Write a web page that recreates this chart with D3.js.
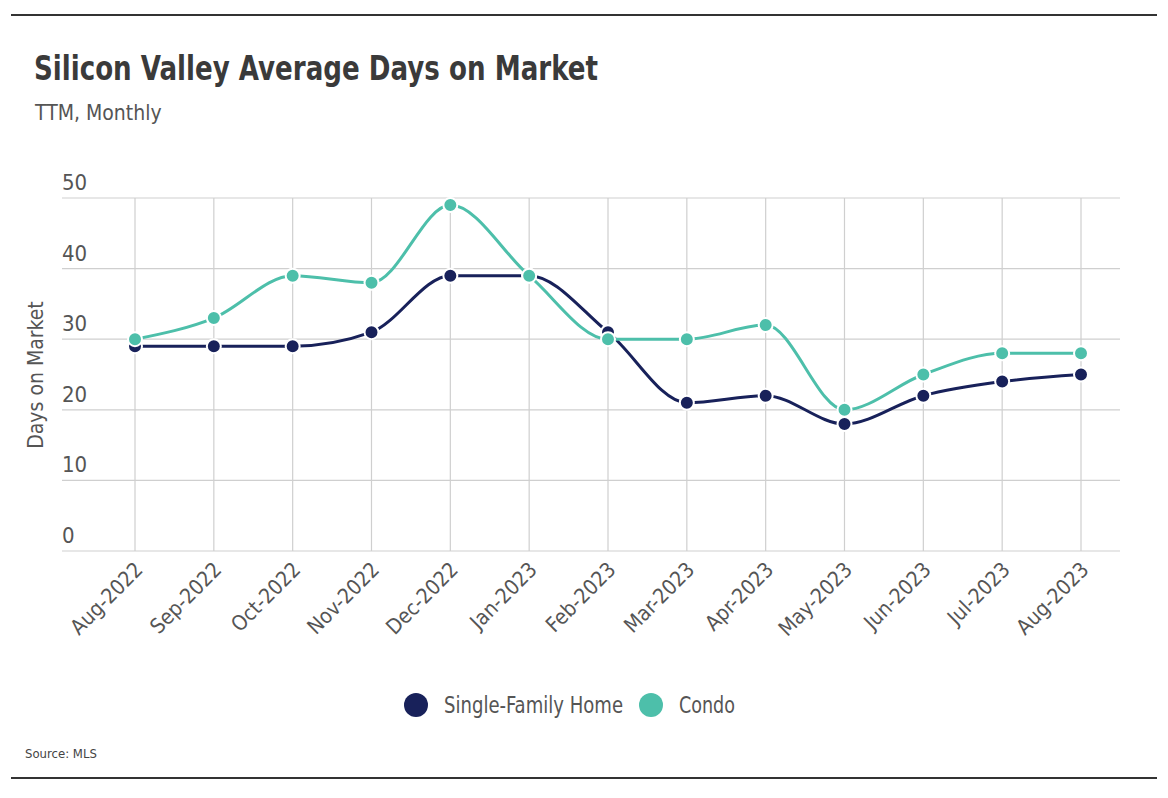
<!DOCTYPE html>
<html>
<head>
<meta charset="utf-8">
<script src="https://d3js.org/d3.v7.min.js"></script>
<style>
  body { margin:0; background:#fff; }
  svg { display:block; font-family:"Liberation Sans Narrow","DejaVu Sans Condensed",sans-serif; }
  .grid line { stroke:#cfcfcf; stroke-width:1.2px; }
  .tick-y { font-size:22px; fill:#555; }
  .tick-x { font-size:21px; fill:#555; }
</style>
</head>
<body>
<div id="chart"></div>
<script>
const months = ["Aug-2022","Sep-2022","Oct-2022","Nov-2022","Dec-2022","Jan-2023","Feb-2023",
  "Mar-2023","Apr-2023","May-2023","Jun-2023","Jul-2023","Aug-2023"];
const singleFamily = [29, 29, 29, 31, 39, 39, 31, 21, 22, 18, 22, 24, 25];
const condo = [30, 33, 39, 38, 49, 39, 30, 30, 32, 20, 25, 28, 28];
const yTicks = [0, 10, 20, 30, 40, 50];
const seriesNames = ["Single-Family Home", "Condo"];
const seriesColors = ["#18215a", "#4dbfaa"];

const width = 1168, height = 798;
const svg = d3.select("#chart").append("svg").attr("width", width).attr("height", height);

// frame rules
svg.append("line").attr("x1", 11).attr("x2", 1157).attr("y1", 15).attr("y2", 15)
  .attr("stroke", "#333").attr("stroke-width", 2);
svg.append("line").attr("x1", 11).attr("x2", 1157).attr("y1", 778).attr("y2", 778)
  .attr("stroke", "#333").attr("stroke-width", 2);

// titles (condensed face isn't installed, so squeeze to the reference width)
svg.append("text").attr("x", 34).attr("y", 80)
  .attr("textLength", 564).attr("lengthAdjust", "spacingAndGlyphs")
  .style("font-size", "33px").style("font-weight", "bold").attr("fill", "#3a3a3a")
  .text("Silicon Valley Average Days on Market");
svg.append("text").attr("x", 35).attr("y", 120)
  .style("font-size", "21px").attr("fill", "#555").text("TTM, Monthly");

const plotLeft = 62, plotRight = 1120, plotTop = 198, plotBottom = 551;

const x = d3.scalePoint().domain(months).range([135, 1081]);
const y = d3.scaleLinear().domain([0, 50]).range([plotBottom, plotTop]);

// grid
const grid = svg.append("g").attr("class", "grid");
grid.selectAll("line.h").data(yTicks).enter().append("line").attr("class", "h")
  .attr("x1", plotLeft).attr("x2", plotRight)
  .attr("y1", d => y(d)).attr("y2", d => y(d));
grid.selectAll("line.v").data(months).enter().append("line").attr("class", "v")
  .attr("x1", d => x(d)).attr("x2", d => x(d))
  .attr("y1", plotTop).attr("y2", plotBottom);

// y tick labels sit above their gridline
svg.selectAll("text.tick-y").data(yTicks).enter().append("text").attr("class", "tick-y")
  .attr("x", plotLeft).attr("y", d => y(d) - 8).text(d => d);

// y axis title
svg.append("text").attr("transform", "translate(43,375) rotate(-90)")
  .attr("text-anchor", "middle").style("font-size", "21px").attr("fill", "#555")
  .text("Days on Market");

// x tick labels
svg.selectAll("text.tick-x").data(months).enter().append("text").attr("class", "tick-x")
  .attr("text-anchor", "end")
  .attr("transform", d => `translate(${x(d) + 9},${plotBottom + 20}) rotate(-45)`)
  .text(d => d);

// lines and points
const line = d3.line().x((d, i) => x(months[i])).y(d => y(d)).curve(d3.curveMonotoneX);
[singleFamily, condo].forEach((vals, s) => {
  const g = svg.append("g");
  g.append("path").datum(vals).attr("d", line)
    .attr("fill", "none").attr("stroke", seriesColors[s]).attr("stroke-width", 3);
  g.selectAll("circle").data(vals).enter().append("circle")
    .attr("cx", (d, i) => x(months[i])).attr("cy", d => y(d)).attr("r", 7)
    .attr("fill", seriesColors[s]).attr("stroke", "#fff").attr("stroke-width", 2);
});

// legend
const legendPos = [{cx: 416, tx: 444, w: 179}, {cx: 651, tx: 679, w: 56}];
seriesNames.forEach((name, s) => {
  svg.append("circle").attr("cx", legendPos[s].cx).attr("cy", 705).attr("r", 12)
    .attr("fill", seriesColors[s]);
  svg.append("text").attr("x", legendPos[s].tx).attr("y", 713)
    .attr("textLength", legendPos[s].w).attr("lengthAdjust", "spacingAndGlyphs")
    .style("font-size", "23px").attr("fill", "#555").text(name);
});

// source
svg.append("text").attr("x", 25).attr("y", 758)
  .style("font-size", "13px").attr("fill", "#444").text("Source:  MLS");
</script>
</body>
</html>
